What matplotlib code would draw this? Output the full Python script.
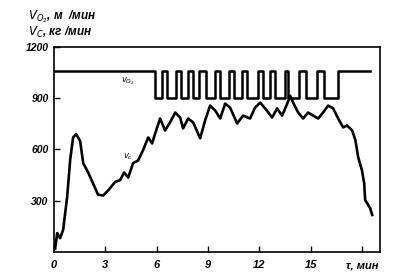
import matplotlib
matplotlib.use("Agg")
import matplotlib.pyplot as plt

# --- dane ---
# V_C, kg/min
t_c = [0.06, 0.18, 0.35, 0.53, 0.76, 0.94, 1.11, 1.29, 1.52, 1.70, 1.99, 2.28,
       2.57, 2.87, 3.16, 3.57, 3.86, 4.09, 4.33, 4.62, 4.91, 5.20, 5.50, 5.73,
       5.91, 6.20, 6.49, 6.78, 7.08, 7.37, 7.54, 7.84, 8.13, 8.54, 8.83, 9.12,
       9.42, 9.71, 10.0, 10.29, 10.70, 11.05, 11.46, 11.75, 12.05, 12.34, 12.75,
       13.04, 13.33, 13.63, 13.80, 13.98, 14.27, 14.56, 14.85, 15.15, 15.44,
       15.73, 16.02, 16.32, 16.61, 16.90, 17.13, 17.43, 17.62, 17.78, 18.0,
       18.13, 18.19, 18.3, 18.48, 18.6]
v_c = [20, 110, 80, 130, 320, 540, 670, 690, 650, 520, 465, 400,
       335, 330, 360, 410, 420, 465, 435, 520, 535, 595, 670, 635,
       694, 781, 711, 758, 816, 787, 723, 781, 758, 665, 770, 857,
       828, 781, 868, 845, 752, 798, 781, 845, 874, 840, 787,
       840, 798, 868, 915, 874, 816, 781, 816, 798, 781,
       816, 857, 840, 781, 729, 740, 711, 653, 554, 478,
       402, 303, 286, 256, 216]

# V_O2, m/min (przebieg prostokatny)
t_o2 = [0, 5.9, 6.3, 6.6, 7.1, 7.4, 7.8, 8.1, 8.5, 8.9, 9.4, 9.7, 10.2, 10.5,
        11.0, 11.3, 11.9, 12.2, 12.6, 12.9, 13.5, 13.7, 14.3, 14.7, 15.4,
        15.8, 16.6, 18.5]
v_o2 = [1060, 900, 1060, 900, 1060, 900, 1060, 900, 1060, 900, 1060, 900,
        1060, 900, 1060, 900, 1060, 900, 1060, 900, 1060, 900, 1060, 900,
        1060, 900, 1060, 1060]

x_ticks = [0, 3, 6, 9, 12, 15, 18]
x_labels = ["0", "3", "6", "9", "12", "15", "τ, мин"]
y_ticks = [300, 600, 900, 1200]

plt.rcParams['font.family'] = ['Liberation Sans', 'DejaVu Sans']

fig = plt.figure(figsize=(4.1, 2.78), dpi=100)
ax = fig.add_axes([0.132, 0.094, 0.795, 0.737])

ax.plot(t_o2, v_o2, color='black', lw=1.8, drawstyle='steps-post')
ax.plot(t_c, v_c, color='black', lw=1.9, solid_joinstyle='round')

ax.set_xlim(0, 19.06)
ax.set_ylim(0, 1200)
ax.set_xticks(x_ticks)
ax.set_xticklabels(x_labels, fontsize=8, style='italic', fontweight='bold')
ax.set_yticks(y_ticks)
ax.set_yticklabels([str(v) for v in y_ticks], fontsize=7.5, style='italic',
                   fontweight='bold')
ax.tick_params(direction='in', length=4, width=1, pad=6)
ax.tick_params(axis='y', pad=4)
for s in ax.spines.values():
    s.set_linewidth(1.2)

ax.text(3.9, 990, r"$v_{O_2}$", fontsize=6, fontweight='bold')
ax.text(4.0, 545, r"$v_c$", fontsize=6, fontweight='bold')

fig.text(0.068, 0.94, r"$V_{O_2}$, м  /мин", fontsize=8.5, style='italic',
         fontweight='bold', va='center')
fig.text(0.068, 0.882, r"$V_{C}$, кг /мин", fontsize=8.5, style='italic',
         fontweight='bold', va='center')

fig.savefig("out.png", dpi=100)
